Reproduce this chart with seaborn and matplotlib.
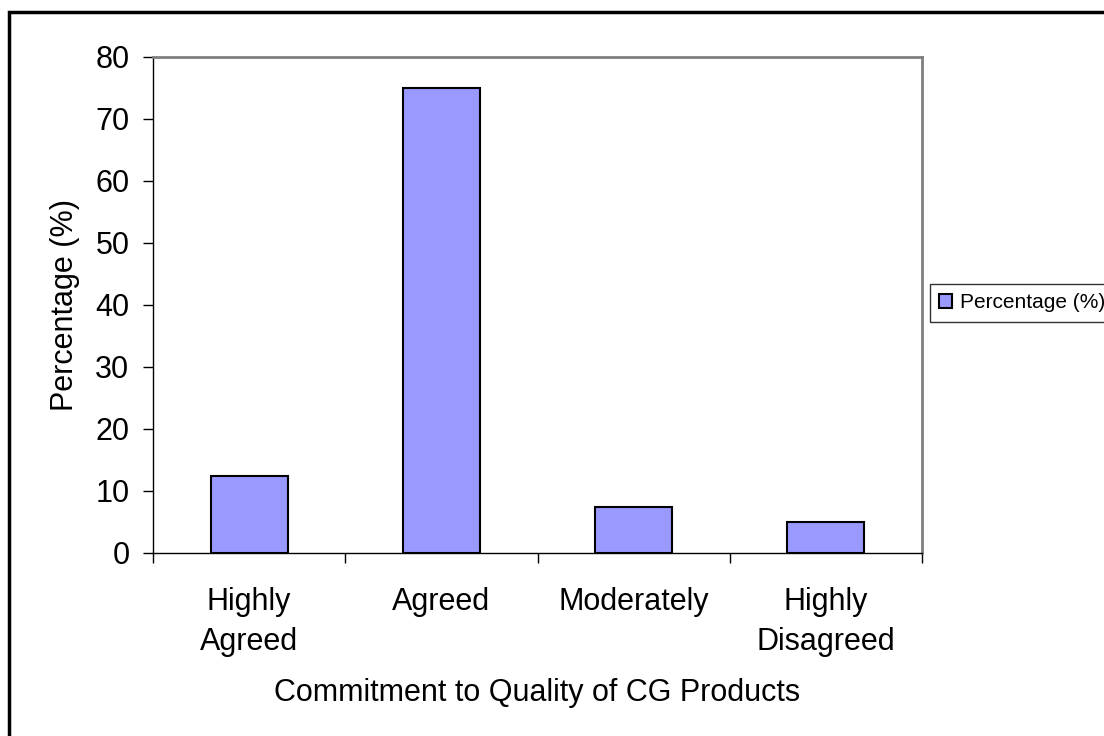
import matplotlib
matplotlib.use('Agg')
import matplotlib.pyplot as plt
import seaborn as sns
import pandas as pd
from matplotlib.patches import Rectangle

categories = ['Highly\nAgreed', 'Agreed', 'Moderately', 'Highly\nDisagreed']
percentages = [12.5, 75, 7.5, 5]
series_name = 'Percentage (%)'

sns.set_style('white')
plt.rcParams['font.family'] = ['Liberation Sans', 'DejaVu Sans']
plt.rcParams['text.color'] = 'black'
plt.rcParams['axes.labelcolor'] = 'black'
plt.rcParams['xtick.color'] = 'black'
plt.rcParams['ytick.color'] = 'black'

df = pd.DataFrame({'category': categories, 'pct': percentages})

fig = plt.figure(figsize=(11.04, 7.36), dpi=100)
ax = fig.add_axes([153/1104, 1 - 553/736, (922 - 153)/1104, (553 - 57)/736])

sns.barplot(data=df, x='category', y='pct', color='#9999FF', width=0.4,
            edgecolor='black', linewidth=1.5, saturation=1, ax=ax,
            label=series_name)

ax.set_xlim(-0.5, len(categories) - 0.5)
ax.set_ylim(0, 80)
ax.set_yticks(range(0, 81, 10))
ax.tick_params(axis='y', labelsize=22, length=7, width=1, direction='out',
               left=True, pad=10, colors='black')

# boundary ticks between categories, labels centred on minor ticks
ax.set_xticks([i - 0.5 for i in range(len(categories) + 1)])
ax.set_xticklabels([])
ax.set_xticks(range(len(categories)), minor=True)
ax.set_xticklabels(categories, minor=True, fontsize=22, linespacing=1.42)
ax.tick_params(axis='x', which='major', length=7, width=1, direction='out', bottom=True)
ax.tick_params(axis='x', which='minor', length=0, pad=24.5, colors='black')

ax.set_xlabel('Commitment to Quality of CG Products', fontsize=22, labelpad=15)
ax.set_ylabel('Percentage (%)', fontsize=22, labelpad=11)

for side in ['left', 'bottom']:
    ax.spines[side].set_color('black')
    ax.spines[side].set_linewidth(1)
for side in ['top', 'right']:
    ax.spines[side].set_color('#808080')
    ax.spines[side].set_linewidth(2)
    ax.spines[side].set_visible(True)

leg = ax.legend(loc='upper left', bbox_to_anchor=(930/1104, 1 - 284/736),
                bbox_transform=fig.transFigure, fontsize=15, frameon=True,
                fancybox=False, handlelength=0.6, handleheight=0.6,
                handletextpad=0.4, borderpad=0.45, borderaxespad=0)
leg.get_frame().set_edgecolor('black')
leg.get_frame().set_linewidth(1)

# outer chart border
fig.patches.append(Rectangle((9/1104, -0.05), 1.1, 1 - 12/736 + 0.05,
                             transform=fig.transFigure, fill=False,
                             edgecolor='black', linewidth=2.5, clip_on=False))

fig.savefig('out.png', dpi=100)
